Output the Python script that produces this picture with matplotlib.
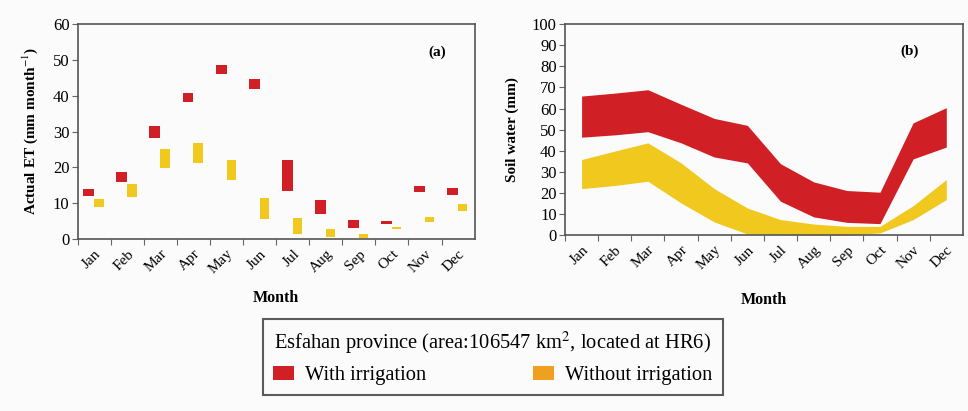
import numpy as np
import matplotlib
matplotlib.use('Agg')
import matplotlib.pyplot as plt
from matplotlib.patches import Patch

plt.rcParams['font.family'] = ['Liberation Serif', 'DejaVu Serif']
plt.rcParams['mathtext.fontset'] = 'stix'

months = ['Jan', 'Feb', 'Mar', 'Apr', 'May', 'Jun', 'Jul', 'Aug', 'Sep', 'Oct', 'Nov', 'Dec']

# (a) actual ET ranges (mm/month)
et_irr_low = [12.0, 16.0, 28.3, 38.3, 46.0, 41.8, 13.3, 6.9, 3.2, 4.1, 13.0, 12.2]
et_irr_high = [14.0, 18.8, 31.6, 40.7, 48.5, 44.7, 22.0, 10.9, 5.2, 5.0, 14.9, 14.3]
et_dry_low = [8.8, 11.8, 19.8, 21.3, 16.4, 5.5, 1.4, 0.5, 0.3, 2.7, 4.8, 7.7]
et_dry_high = [11.1, 15.4, 25.0, 26.8, 22.0, 11.5, 6.0, 2.8, 1.4, 3.4, 6.1, 9.9]

# (b) soil water bands (mm)
sw_irr_low = [46.4, 47.5, 49.0, 43.7, 37.0, 34.2, 16.0, 8.6, 6.0, 5.4, 36.1, 41.7]
sw_irr_high = [65.9, 67.3, 68.9, 62.0, 55.3, 52.0, 33.8, 25.2, 21.1, 20.3, 53.2, 60.4]
sw_dry_low = [22.0, 23.5, 25.5, 15.2, 6.2, 0.5, 0.2, 0.0, 0.0, 1.0, 7.3, 16.8]
sw_dry_high = [35.8, 39.8, 43.7, 34.2, 22.0, 12.8, 7.3, 5.2, 4.1, 4.1, 13.9, 26.3]

red = '#d11f26'
yellow = '#f0c81e'
orange = '#f0a020'
bg = '#fbfbfb'

fig = plt.figure(figsize=(9.68, 4.11), dpi=100, facecolor=bg)
ax1 = fig.add_axes([0.0803, 0.4185, 0.410, 0.523], facecolor=bg)
ax2 = fig.add_axes([0.5837, 0.4282, 0.411, 0.513], facecolor=bg)

x = np.arange(12)

# floating bars
ax1.bar(x + 0.17, np.array(et_irr_high) - np.array(et_irr_low), bottom=et_irr_low,
        width=0.33, align='edge', color=red)
ax1.bar(x + 0.5, np.array(et_dry_high) - np.array(et_dry_low), bottom=et_dry_low,
        width=0.28, align='edge', color=yellow)
ax1.set_ylim(0, 60)
ax1.set_yticks(range(0, 61, 10))
ax1.set_ylabel('Actual ET (mm month$^{-1}$)', fontsize=11, fontweight='bold', labelpad=9)
ax1.text(0.905, 0.87, '(a)', transform=ax1.transAxes, fontsize=11, fontweight='bold',
         ha='center', va='center')
ax1.set_xlabel('Month', fontsize=11.5, fontweight='bold', labelpad=10)

# bands
xc = x + 0.5
ax2.fill_between(xc, sw_irr_low, sw_irr_high, color=red, linewidth=0)
ax2.fill_between(xc, sw_dry_low, sw_dry_high, color=yellow, linewidth=0)
ax2.set_ylim(0, 100)
ax2.set_yticks(range(0, 101, 10))
ax2.set_ylabel('Soil water (mm)', fontsize=11, fontweight='bold', labelpad=9)
ax2.text(0.867, 0.872, '(b)', transform=ax2.transAxes, fontsize=11, fontweight='bold',
         ha='center', va='center')
ax2.set_xlabel('Month', fontsize=11.5, fontweight='bold', labelpad=14)

for ax in (ax1, ax2):
    ax.set_xlim(0, 12)
    ax.set_xticks(np.arange(12))
    ax.set_xticklabels([])
    ax.set_xticks(xc, minor=True)
    ax.set_xticklabels(months, minor=True, rotation=45, ha='right',
                       rotation_mode='anchor', fontsize=11)
    ax.tick_params(axis='x', which='minor', length=0, pad=6)
    ax.tick_params(axis='x', which='major', length=4, color='#666666')
    ax.tick_params(axis='y', labelsize=12, length=4, color='#666666', pad=2)
    for s in ax.spines.values():
        s.set_color('#555555')
        s.set_linewidth(1.2)

handles = [Patch(facecolor=red, label='With irrigation'),
           Patch(facecolor=orange, label='Without irrigation')]
leg = fig.legend(handles=handles, ncol=2, loc='center', bbox_to_anchor=(0.509, 0.131),
                 title='Esfahan province (area:106547 km$^2$, located at HR6)',
                 title_fontsize=14.8, fontsize=14.8, frameon=True, fancybox=False,
                 edgecolor='#333333', columnspacing=5.2, handlelength=1.0,
                 handleheight=0.65, handletextpad=0.55, borderpad=0.5,
                 borderaxespad=0)
leg.get_frame().set_linewidth(1.5)
leg.get_frame().set_facecolor(bg)

fig.savefig('out.png', dpi=100, facecolor=bg)
